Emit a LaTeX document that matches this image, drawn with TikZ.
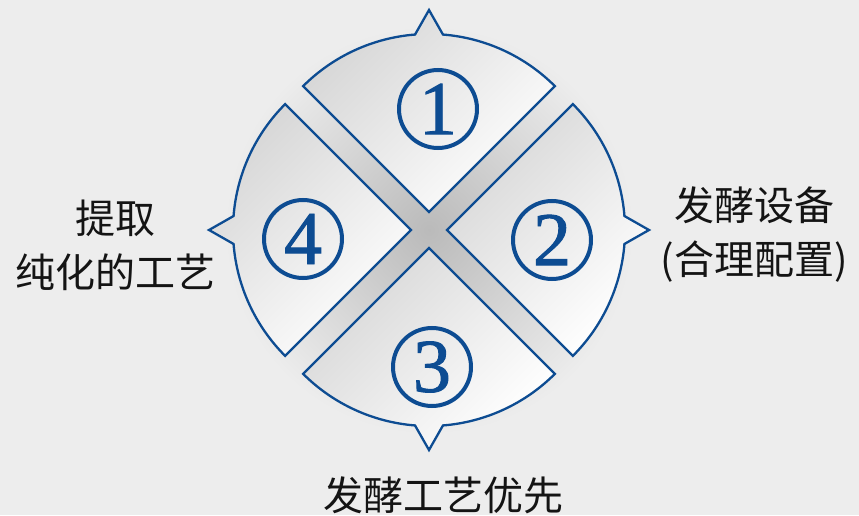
\documentclass[tikz,border=0pt]{standalone}
\usepackage{fontspec}
\newfontfamily\cjk{Noto Sans CJK SC}
\newfontfamily\digitfont[FakeBold=1.2]{Liberation Serif}
\usetikzlibrary{calc}
\definecolor{dblue}{RGB}{13,76,146}
\begin{document}
\begin{tikzpicture}[x=1pt,y=1pt,
  sector/.style={draw=dblue, line width=2.3pt, line join=miter, top color=black!16, bottom color=white, shading angle=45},
  numc/.style={circle, draw=dblue, line width=4pt, minimum size=78pt, inner sep=0pt, text=dblue, font=\digitfont\fontsize{76}{76}\selectfont},
  lbl/.style={font=\cjk\fontsize{40}{54}\selectfont, align=center, text=black!92}]
\fill[black!7] (0,0) rectangle (859,515);
\useasboundingbox (0,0) rectangle (859,515);
\coordinate (C) at (429,285);
\shade[inner color=black!27, outer color=black!7] (C) circle (205);
\foreach \a/\dx/\dy in {90/0/18, 0/18/0, -90/0/-18, 180/-18/0}{
  \begin{scope}[shift={(429+\dx,285+\dy)}]
  \draw[sector] (0,0) -- ({\a-45}:178) arc[start angle={\a-45}, end angle={\a-4.5}, radius=178] -- (\a:202) -- ({\a+4.5}:178) arc[start angle={\a+4.5}, end angle={\a+45}, radius=178] -- cycle;
  \end{scope}}
\node[numc] (n1) at (438,406) {1};
\node[numc] (n2) at (552,275) {2};
\node[numc] (n3) at (432,148) {3};
\node[numc] (n4) at (303,276) {4};
\node[lbl] (t2) at (754,280) {发酵设备\\(合理配置)};
\node[lbl] (t4) at (115,270) {提取\\纯化的工艺};
\node[lbl] (t3) at (443,20) {发酵工艺优先};
\end{tikzpicture}
\end{document}
